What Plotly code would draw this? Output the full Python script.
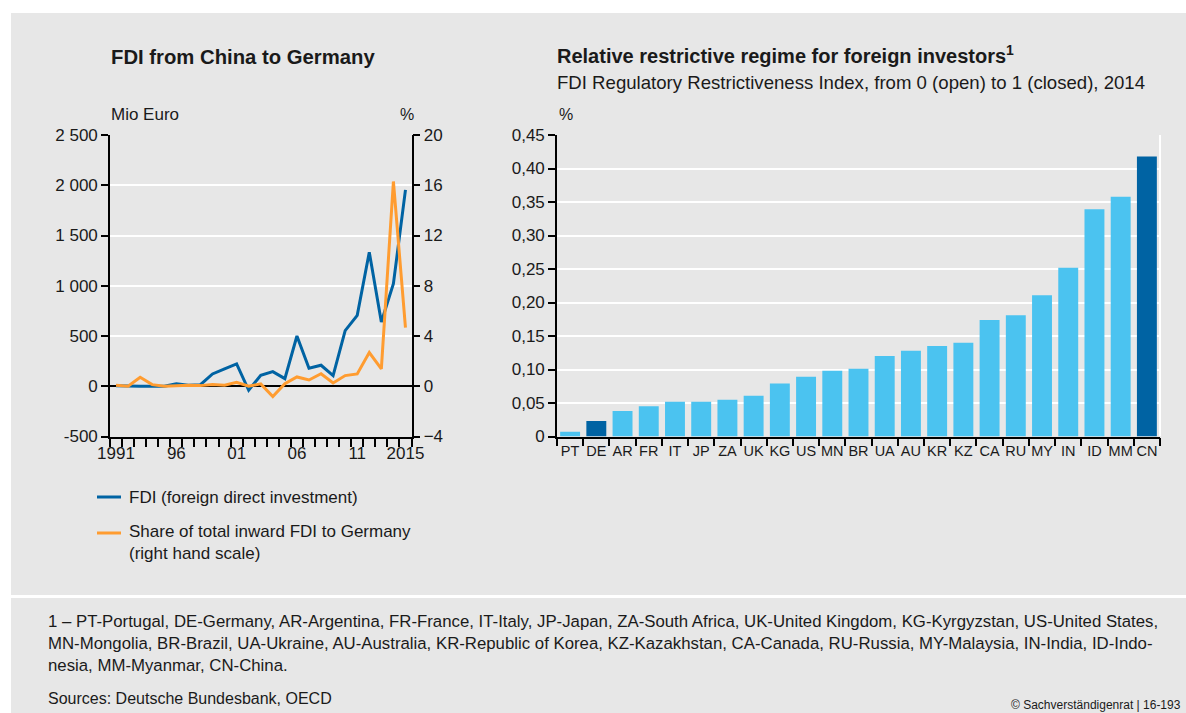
import plotly.graph_objects as go

# ---------------- data ----------------
years = list(range(1991, 2016))
fdi_mio_eur = [5, 0, 0, 0, 0, 25, 10, 15, 122, 172, 222, -40, 109, 146, 76,
               500, 179, 209, 106, 553, 705, 1334, 639, 1020, 1954]
share_pct = [0.08, 0.0, 0.72, 0.13, 0.0, 0.05, 0.08, 0.05, 0.13, 0.08, 0.32, 0.0,
             0.19, -0.82, 0.21, 0.74, 0.5, 1.0, 0.26, 0.85, 0.98, 2.68, 1.38, 16.3, 4.66]

year_tick_vals = [1991, 1996, 2001, 2006, 2011, 2015]
year_tick_text = ["1991", "96", "01", "06", "11", "2015"]

left_tick_vals = [-500, 0, 500, 1000, 1500, 2000, 2500]
left_tick_text = ["-500", "0", "500", "1 000", "1 500", "2 000", "2 500"]
right_tick_vals = [-4, 0, 4, 8, 12, 16, 20]

countries = ["PT", "DE", "AR", "FR", "IT", "JP", "ZA", "UK", "KG", "US", "MN", "BR",
             "UA", "AU", "KR", "KZ", "CA", "RU", "MY", "IN", "ID", "MM", "CN"]
fdi_index = [0.007, 0.023, 0.038, 0.045, 0.052, 0.052, 0.055, 0.061, 0.079, 0.089,
             0.098, 0.101, 0.120, 0.128, 0.135, 0.140, 0.174, 0.181, 0.211, 0.252,
             0.339, 0.358, 0.418]
highlight = ["DE", "CN"]
index_tick_vals = [0, 0.05, 0.10, 0.15, 0.20, 0.25, 0.30, 0.35, 0.40, 0.45]
index_tick_text = ["0", "0,05", "0,10", "0,15", "0,20", "0,25", "0,30", "0,35", "0,40", "0,45"]

# ---------------- style ----------------
W, H = 1186, 713
BG = "#e7e7e7"
TXT = "#1a1a1a"
BLUE = "#0063a3"
ORANGE = "#ff9c30"
LIGHT = "#4bc3f0"
FONT = "Liberation Sans, Arial, sans-serif"


def px(x):
    return x / W


def py(y):
    return 1 - y / H


fig = go.Figure()

fig.add_trace(go.Scatter(x=years, y=fdi_mio_eur, mode="lines", name="FDI",
                         line=dict(color=BLUE, width=3), xaxis="x", yaxis="y",
                         showlegend=False))
fig.add_trace(go.Scatter(x=years, y=share_pct, mode="lines", name="Share",
                         line=dict(color=ORANGE, width=3), xaxis="x", yaxis="y2",
                         showlegend=False))
# invisible helper trace so the boundary-tick axis is rendered
fig.add_trace(go.Scatter(x=years, y=fdi_mio_eur, mode="lines", xaxis="x2", yaxis="y",
                         line=dict(color="rgba(0,0,0,0)", width=0), hoverinfo="skip",
                         showlegend=False))
fig.add_trace(go.Bar(x=countries, y=fdi_index, xaxis="x3", yaxis="y3",
                     marker=dict(color=[BLUE if c in highlight else LIGHT for c in countries],
                                 line=dict(width=0)),
                     showlegend=False))

plot_top, plot_bot = 135, 436.5
ydom = [py(plot_bot), py(plot_top)]
xdom_left = [px(110), px(411.5)]

axis_common = dict(linecolor="black", linewidth=1.6, tickcolor="black", tickwidth=1.6,
                   automargin=False,
                   tickfont=dict(family=FONT, size=17, color=TXT))

boundaries = [y - 0.5 for y in years] + [years[-1] + 0.5]

fig.update_layout(
    width=W, height=H,
    margin=dict(l=0, r=0, t=0, b=0, pad=0, autoexpand=False),
    paper_bgcolor="white",
    plot_bgcolor="rgba(0,0,0,0)",
    font=dict(family=FONT, color=TXT),
    showlegend=False,
    bargap=0.24,
    xaxis=dict(domain=xdom_left, range=[1990.5, 2015.5], anchor="y",
               tickmode="array", tickvals=year_tick_vals, ticktext=year_tick_text,
               ticks="", showline=True, showgrid=False, zeroline=False,
               **axis_common),
    xaxis2=dict(domain=xdom_left, range=[1990.5, 2015.5], anchor="y", overlaying="x",
                side="bottom", tickmode="array", tickvals=boundaries,
                showticklabels=False, ticks="outside", ticklen=9,
                showline=False, showgrid=False, zeroline=False,
                **axis_common),
    yaxis=dict(domain=ydom, range=[-500, 2500], anchor="x",
               tickmode="array", tickvals=left_tick_vals, ticktext=left_tick_text,
               ticks="outside", ticklen=7, showline=True, showgrid=True,
               gridcolor="white", gridwidth=2, zeroline=True, zerolinecolor="black",
               zerolinewidth=2, **axis_common),
    yaxis2=dict(range=[-4, 20], overlaying="y", side="right", anchor="x",
                tickmode="array", tickvals=right_tick_vals,
                ticks="outside", ticklen=7, showline=True, showgrid=False,
                zeroline=False, **axis_common),
    xaxis3=dict(domain=[px(557), px(1160)], anchor="y3", type="category",
                ticks="outside", tickson="boundaries", ticklen=8, showline=True,
                showgrid=False, zeroline=False, tickangle=0,
                **{**axis_common, "tickfont": dict(family=FONT, size=14.5, color=TXT)}),
    yaxis3=dict(domain=ydom, range=[0, 0.45], anchor="x3",
                tickmode="array", tickvals=index_tick_vals, ticktext=index_tick_text,
                ticks="outside", ticklen=7, showline=True, showgrid=True,
                gridcolor="white", gridwidth=2, zeroline=False, **axis_common),
)

shapes = [
    dict(type="rect", xref="paper", yref="paper", x0=px(11), x1=1, y0=py(595), y1=py(13),
         fillcolor=BG, line=dict(width=0), layer="below"),
    dict(type="rect", xref="paper", yref="paper", x0=px(11), x1=1, y0=0, y1=py(598),
         fillcolor=BG, line=dict(width=0), layer="below"),
    dict(type="line", xref="x3 domain", yref="y3", x0=1, x1=1, y0=0, y1=0.45,
         line=dict(color="white", width=2), layer="below"),
    # legend keys
    dict(type="line", xref="paper", yref="paper", x0=px(97), x1=px(121), y0=py(497), y1=py(497),
         line=dict(color=BLUE, width=3)),
    dict(type="line", xref="paper", yref="paper", x0=px(97), x1=px(121), y0=py(533), y1=py(533),
         line=dict(color=ORANGE, width=3)),
]
fig.update_layout(shapes=shapes)


def ann(x, y, text, size=16, anchor="left", bold=False, yanchor="middle"):
    t = f"<b>{text}</b>" if bold else text
    return dict(x=px(x), y=py(y), xref="paper", yref="paper", text=t, showarrow=False,
                xanchor=anchor, yanchor=yanchor, align="left",
                font=dict(family=FONT, size=size, color=TXT))


annotations = [
    ann(109, 57, "FDI from China to Germany", size=20.3, bold=True),
    ann(555, 55, "Relative restrictive regime for foreign investors<sup>1</sup>", size=20, bold=True),
    ann(555, 82, "FDI Regulatory Restrictiveness Index, from 0 (open) to 1 (closed), 2014", size=18.6),
    ann(109, 114, "Mio Euro", size=17),
    ann(398, 114, "%", size=16),
    ann(557, 114, "%", size=16),
    ann(127, 497, "FDI (foreign direct investment)", size=17),
    ann(127, 542, "Share of total inward FDI to Germany<br>(right hand scale)", size=17),
    ann(46, 643, "1 – PT-Portugal, DE-Germany, AR-Argentina, FR-France, IT-Italy, JP-Japan, ZA-South Africa, "
                 "UK-United Kingdom, KG-Kyrgyzstan, US-United States,<br>MN-Mongolia, BR-Brazil, UA-Ukraine, "
                 "AU-Australia, KR-Republic of Korea, KZ-Kazakhstan, CA-Canada, RU-Russia, MY-Malaysia, "
                 "IN-India, ID-Indo-<br>nesia, MM-Myanmar, CN-China.", size=16.8),
    ann(46, 698, "Sources: Deutsche Bundesbank, OECD", size=16),
    ann(1183, 705, "© Sachverständigenrat | 16-193", size=12, anchor="right"),
]
fig.update_layout(annotations=annotations)

fig.write_html("out.html", config={"displayModeBar": False},
               post_script="document.body.style.margin='0';document.body.style.overflow='hidden';")
